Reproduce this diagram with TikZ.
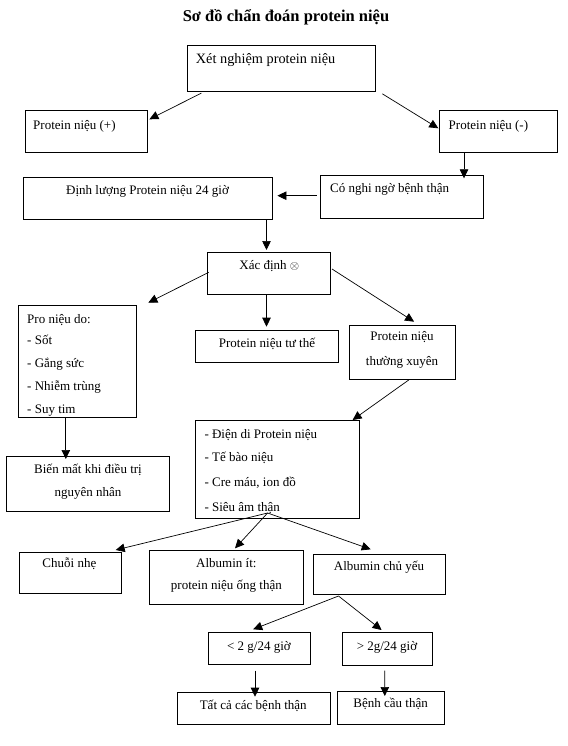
\documentclass[tikz,border=0pt]{standalone}
\usepackage{fontspec}
\setmainfont{Liberation Serif}
\usetikzlibrary{calc,arrows.meta}
\tikzset{
  box/.style={draw=black, line width=0.9pt, inner sep=0pt, outer sep=0pt, anchor=north west},
  txt/.style={inner sep=0pt, font=\fontsize{13}{15}\selectfont, anchor=base},
  txtl/.style={txt, anchor=base west},
  arr/.style={line width=0.7pt, -{Triangle[length=9pt,width=8.5pt]}},
  ttl/.style={inner sep=0pt, font=\fontsize{16.5}{19}\selectfont\bfseries, anchor=base}
}
\begin{document}
\begin{tikzpicture}[x=1pt,y=-1pt]
\useasboundingbox[fill=white] (0,0) rectangle (567,746);
\node[ttl] (title) at (286,22) {Sơ đồ chẩn đoán protein niệu};
% boxes
\node[box, minimum width=188.1pt, minimum height=46pt] (xet) at (187.3,45.8) {};
\node[box, minimum width=122.3pt, minimum height=41.6pt] (plus) at (25.3,110.7) {};
\node[box, minimum width=117.6pt, minimum height=41.6pt] (minus) at (439.4,110.7) {};
\node[box, minimum width=248.8pt, minimum height=41.3pt] (dinh) at (23.5,177.7) {};
\node[box, minimum width=163.1pt, minimum height=42.3pt] (conghi) at (320.4,175.7) {};
\node[box, minimum width=123pt, minimum height=41.7pt] (xac) at (207.2,252.3) {};
\node[box, minimum width=117.5pt, minimum height=112pt] (pro) at (18.8,305.3) {};
\node[box, minimum width=143.2pt, minimum height=31.6pt] (tuthe) at (195.3,330.7) {};
\node[box, minimum width=105.9pt, minimum height=54pt] (thuong) at (349.4,325.3) {};
\node[box, minimum width=162.8pt, minimum height=55pt] (bien) at (6.5,456.3) {};
\node[box, minimum width=164.2pt, minimum height=98pt] (diendi) at (195.3,420) {};
\node[box, minimum width=102.3pt, minimum height=41pt] (chuoi) at (19.2,552.3) {};
\node[box, minimum width=154.4pt, minimum height=53.6pt] (albit) at (149.4,550.7) {};
\node[box, minimum width=131.3pt, minimum height=39.7pt] (albchu) at (313.9,554.3) {};
\node[box, minimum width=102pt, minimum height=32pt] (lt2) at (208.3,632.3) {};
\node[box, minimum width=90.1pt, minimum height=33.4pt] (gt2) at (342.1,632.3) {};
\node[box, minimum width=153pt, minimum height=31.7pt] (tatca) at (177.2,692.3) {};
\node[box, minimum width=107.1pt, minimum height=32.7pt] (benh) at (337.4,691.3) {};
% texts
\node[txtl, font=\fontsize{14.3}{16}\selectfont] (xet-t) at (195.7,63.5) {Xét nghiệm protein niệu};
\node[txtl] (plus-t) at (33,130) {Protein niệu (+)};
\node[txtl] (minus-t) at (448.5,130) {Protein niệu (-)};
\node[txt] (dinh-t) at (147.6,194) {Định lượng Protein niệu 24 giờ};
\node[txtl] (conghi-t) at (330,192.3) {Có nghi ngờ bệnh thận};
\node[txt] (xac-t) at (269.3,269.5) {Xác định $\otimes$};
\node[txtl] (pro-t1) at (27,323) {Pro niệu do:};
\node[txtl] (pro-t2) at (27,344) {- Sốt};
\node[txtl] (pro-t3) at (27,367.3) {- Gắng sức};
\node[txtl] (pro-t4) at (27,390) {- Nhiễm trùng};
\node[txtl] (pro-t5) at (27,413) {- Suy tim};
\node[txt] (tuthe-t) at (267,347.3) {Protein niệu tư thế};
\node[txt] (thuong-t1) at (402,340.7) {Protein niệu};
\node[txt] (thuong-t2) at (402,365) {thường xuyên};
\node[txt] (bien-t1) at (88,473) {Biến mất khi điều trị};
\node[txt] (bien-t2) at (88,496.3) {nguyên nhân};
\node[txtl] (diendi-t1) at (204.3,438) {- Điện di Protein niệu};
\node[txtl] (diendi-t2) at (204.3,461.7) {- Tế bào niệu};
\node[txtl] (diendi-t3) at (204.3,486.3) {- Cre máu, ion đồ};
\node[txtl] (diendi-t4) at (204.3,511.3) {- Siêu âm thận};
\node[txt] (chuoi-t) at (69.4,567.3) {Chuỗi nhẹ};
\node[txt] (albit-t1) at (226.4,567.3) {Albumin ít:};
\node[txt] (albit-t2) at (226.4,589) {protein niệu ống thận};
\node[txt] (albchu-t) at (379,570) {Albumin chủ yếu};
\node[txt] (lt2-t) at (259,650.7) {< 2 g/24 giờ};
\node[txt] (gt2-t) at (387,650.7) {> 2g/24 giờ};
\node[txt] (tatca-t) at (253.2,709) {Tất cả các bệnh thận};
\node[txt] (benh-t) at (390.6,707.3) {Bệnh cầu thận};
% connectors
\draw[arr] ($(xet.south west)+(14.1,1.3)$) -- ($(plus.north east)+(1.8,8.6)$);
\draw[arr] ($(xet.south east)+(6.9,2)$) -- ($(minus.north west)+(-1.1,17.6)$);
\draw[arr] ($(minus.south west)+(24.6,0)$) -- ($(conghi.north west)+(143.6,2.6)$);
\draw[arr] ($(conghi.north west)+(-3.6,20)$) -- ($(dinh.north east)+(5.1,18)$);
\draw[arr] ($(dinh.south east)+(-5.8,0)$) -- ($(xac.north west)+(59.3,-2.3)$);
\draw[arr] ($(xac.north west)+(1.5,20)$) -- ($(pro.north east)+(12,-2.6)$);
\draw[arr] ($(xac.south west)+(59.3,0)$) -- ($(tuthe.north west)+(71.2,-4)$);
\draw[arr] ($(xac.north east)+(1.8,16.7)$) -- ($(thuong.north west)+(64.7,-3.6)$);
\draw[arr] ($(thuong.south west)+(59.3,0.7)$) -- ($(diendi.north east)+(-6.9,0)$);
\draw[arr] ($(pro.south west)+(47,0)$) -- ($(bien.north west)+(59.3,2.7)$);
\coordinate (split1) at ($(diendi.south west)+(72.3,-5)$);
\draw[arr] (split1) -- ($(chuoi.north east)+(-5.8,-2.3)$);
\draw[arr] (split1) -- ($(albit.north west)+(85.6,-2.4)$);
\draw[arr] (split1) -- ($(albchu.north west)+(56.8,-5)$);
\coordinate (split2) at ($(albchu.south west)+(24.6,2)$);
\draw[arr] (split2) -- ($(lt2.north west)+(44.9,-3)$);
\draw[arr] (split2) -- ($(gt2.north west)+(39.5,-2.3)$);
\draw[arr] ($(lt2.south west)+(46.7,6.4)$) -- ($(tatca.north west)+(77.8,4.4)$);
\draw[arr] ($(gt2.south west)+(42.7,5)$) -- ($(benh.north west)+(47.4,4.7)$);
\end{tikzpicture}
\end{document}
